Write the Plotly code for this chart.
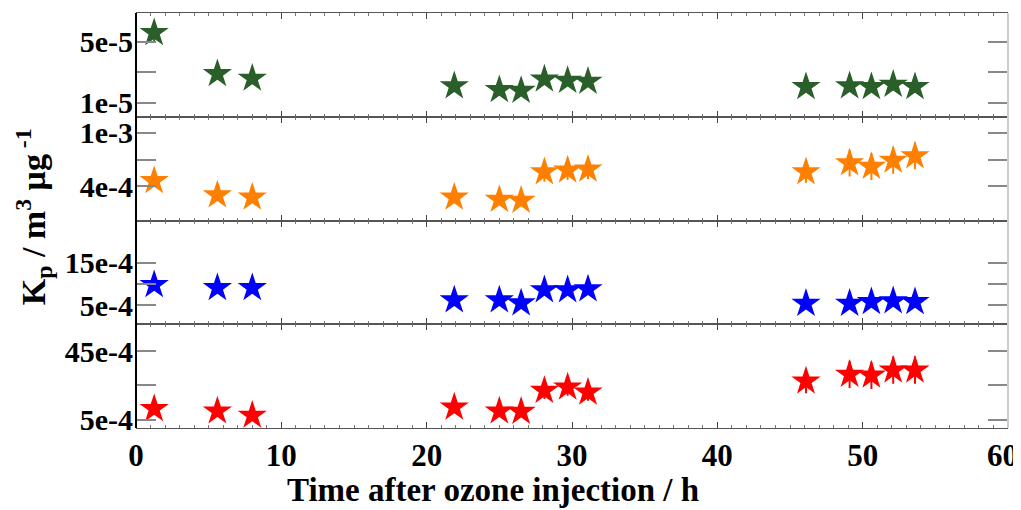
import plotly.graph_objects as go
from plotly.subplots import make_subplots

# Time after ozone injection (h)
time_h = [1.25, 5.6, 8.0, 21.9, 25.0, 26.5, 28.1, 29.7, 31.1, 46.1, 49.1, 50.6, 52.1, 53.6]

# Kp values (m3 ug-1) for each panel, top to bottom
kp_green = [5.6e-5, 2.9e-5, 2.6e-5, 2.1e-5, 1.85e-5, 1.8e-5, 2.55e-5, 2.46e-5, 2.4e-5,
            2.05e-5, 2.1e-5, 2.05e-5, 2.2e-5, 2.05e-5]
err_green = [0.6e-5, 0, 0, 0, 0, 0, 0, 0, 0, 0, 0, 0, 0, 0]

kp_orange = [4.6e-4, 3.0e-4, 2.75e-4, 2.75e-4, 2.5e-4, 2.4e-4, 5.6e-4, 5.8e-4, 5.9e-4,
             5.6e-4, 6.6e-4, 6.2e-4, 6.9e-4, 7.4e-4]
err_orange = [0, 0, 0, 0, 0, 0, 1.1e-4, 1.1e-4, 1.1e-4, 1.2e-4, 1.5e-4, 1.5e-4, 1.5e-4, 1.5e-4]

kp_blue = [9.8e-4, 9.1e-4, 9.1e-4, 6.2e-4, 6.2e-4, 5.5e-4, 8.6e-4, 8.6e-4, 8.8e-4,
           5.4e-4, 5.4e-4, 5.8e-4, 6.0e-4, 5.8e-4]
err_blue = [0] * 14

kp_red = [11.3e-4, 9.9e-4, 7.4e-4, 12.2e-4, 9.9e-4, 9.7e-4, 22e-4, 24e-4, 21e-4,
          27.5e-4, 31.5e-4, 31e-4, 34e-4, 34e-4]
err_red = [0, 0, 0, 0, 0, 0, 5e-4, 5e-4, 5e-4, 7e-4, 8e-4, 8e-4, 8e-4, 8e-4]

# Axis settings per panel
y_ranges = [[0.08e-5, 6.9e-5], [0.15e-4, 11.8e-4], [0.5e-4, 25e-4], [0, 61e-4]]
y_tickvals = [[1e-5, 3e-5, 5e-5], [4e-4, 7e-4, 10e-4], [5e-4, 10e-4, 15e-4], [5e-4, 25e-4, 45e-4]]
y_ticktext = [["1e-5", "", "5e-5"], ["4e-4", "", "1e-3"], ["5e-4", "", "15e-4"], ["5e-4", "", "45e-4"]]
x_ticks = [0, 10, 20, 30, 40, 50, 60]
x_ticktext = [str(v) for v in x_ticks]
last_label = x_ticktext[-1]
x_ticktext[-1] = ""  # the last label is drawn slightly inside the window (see below)

series = [(kp_green, err_green, "#2A5F2A"), (kp_orange, err_orange, "#FF8000"),
          (kp_blue, err_blue, "#0000FF"), (kp_red, err_red, "#FF0000")]

fig = make_subplots(rows=4, cols=1, shared_xaxes=True, vertical_spacing=0)

font_fam = "Liberation Serif"
for i, (vals, errs, col) in enumerate(series):
    fig.add_trace(go.Scatter(
        x=time_h, y=vals, mode="markers",
        marker=dict(symbol="star", size=22, color=col, line=dict(width=0)),
        error_y=dict(type="data", array=errs, visible=True, color=col, thickness=2, width=0),
        showlegend=False), row=i + 1, col=1)
    fig.update_yaxes(row=i + 1, col=1,
                     range=y_ranges[i], tickvals=y_tickvals[i], ticktext=y_ticktext[i],
                     ticks="inside", ticklen=20, tickwidth=1.5, tickcolor="#888",
                     mirror="ticks", showline=False, showgrid=False, zeroline=False,
                     automargin=False, ticklabelstandoff=2,
                     tickfont=dict(family=font_fam, size=30, color="black", weight="bold"))
    fig.update_xaxes(row=i + 1, col=1,
                     range=[0, 60], tickvals=x_ticks, ticktext=x_ticktext,
                     ticks="inside", ticklen=6, tickwidth=1.2, tickcolor="#444",
                     minor=dict(dtick=1, ticks="inside", ticklen=3, tickcolor="#777", tickwidth=1),
                     showline=True, linecolor="#555", linewidth=1, mirror="ticks",
                     showgrid=False, zeroline=False, automargin=False,
                     showticklabels=(i == 3),
                     tickfont=dict(family=font_fam, size=31, color="black", weight="bold"))

# last x tick label, nudged left so it stays inside the window
fig.add_annotation(text=last_label, xref="x4", yref="paper", x=x_ticks[-1], y=0,
                   xanchor="right", yanchor="top", xshift=12, yshift=-8, showarrow=False,
                   font=dict(family=font_fam, size=31, color="black", weight="bold"))

# x-axis title (sits left of the plot centre, as in the original)
fig.add_annotation(text="Time after ozone injection / h",
                   xref="paper", yref="paper", x=0.409, y=-0.149,
                   showarrow=False, xanchor="center", yanchor="middle",
                   font=dict(family=font_fam, size=33, color="black", weight="bold"))

# left (black) and right (light gray) borders of the stacked panels
fig.add_shape(type="line", xref="paper", yref="paper", x0=0, x1=0, y0=0, y1=1,
              line=dict(color="black", width=2))
fig.add_shape(type="line", xref="paper", yref="paper", x0=1, x1=1, y0=0, y1=1,
              line=dict(color="#cccccc", width=2))

fig.add_annotation(text="K<sub>p</sub> / m<sup>3</sup> μg<sup> -1</sup>",
                   xref="paper", yref="paper", x=-0.118, y=0.508, textangle=-90,
                   showarrow=False, xanchor="center", yanchor="middle",
                   font=dict(family=font_fam, size=34, color="black", weight="bold"))

# the page places the figure 8 px from the window's top-left corner
fig.update_layout(width=1013, height=502, margin=dict(l=128, r=13, t=5, b=82),
                  plot_bgcolor="white", paper_bgcolor="white",
                  font=dict(family=font_fam, color="black"))

fig.write_html("out.html")
